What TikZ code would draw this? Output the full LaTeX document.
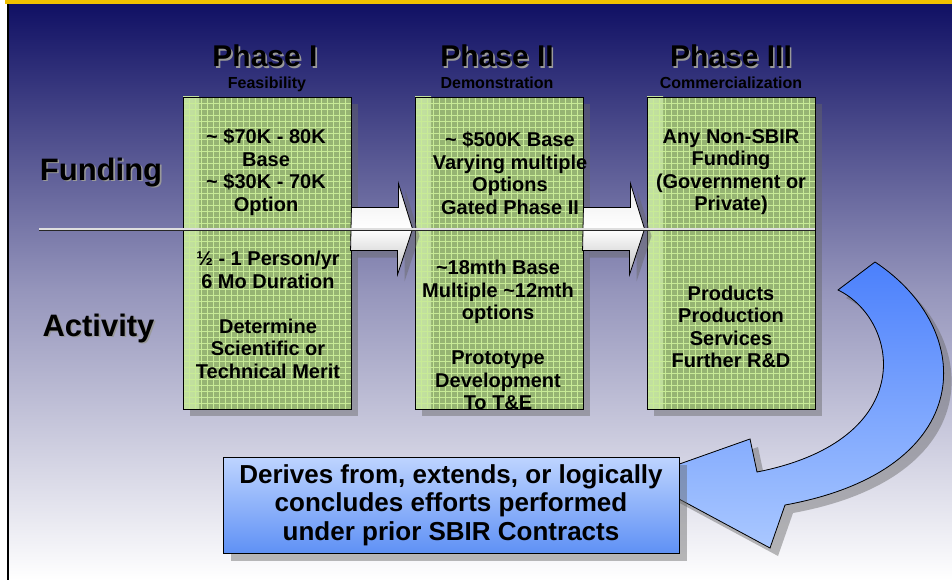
\documentclass[tikz,border=0pt]{standalone}
\usepackage{fontspec}
\setmainfont{Liberation Sans}
\usetikzlibrary{positioning,shadows,calc}

\definecolor{navytop}{RGB}{16,16,100}
\definecolor{navymid}{RGB}{150,150,188}
\definecolor{goldbar}{RGB}{240,192,0}
\definecolor{boxgreen}{RGB}{150,180,115}
\definecolor{boxlight}{RGB}{195,225,160}
\definecolor{gridgreen}{RGB}{200,235,150}
\definecolor{arrowblue}{RGB}{75,128,252}
\definecolor{arrowpale}{RGB}{170,200,255}
\definecolor{noteblue}{RGB}{95,145,245}
\definecolor{notepale}{RGB}{190,212,255}

% black text with a grey copy set just below and to the right
\newcommand{\embossed}[1]{\rlap{\kern1.6pt\raisebox{-1.6pt}{\color{black!40}#1}}#1}

\tikzset{
  boxshadow/.style={drop shadow={shadow xshift=7pt, shadow yshift=-7pt, fill=black!60, opacity=0.45}},
  boxgrid/.style={draw=gridgreen, line width=0.6pt},
  phasebox/.style={draw, line width=0.9pt, fill=boxgreen, minimum width=168pt, minimum height=312pt, inner sep=0pt, boxshadow,
    path picture={
      \shade[left color=boxlight, right color=boxgreen] (path picture bounding box.north west) rectangle ([xshift=16pt]path picture bounding box.south west);
      \draw[boxgrid] (path picture bounding box.south west) grid[step=6pt] (path picture bounding box.north east);
    }},
  phasetitle/.style={font=\bfseries\fontsize{30}{32}\selectfont, anchor=base, inner sep=0pt},
  phasesub/.style={font=\bfseries\fontsize{16}{18}\selectfont, anchor=base, inner sep=0pt},
  sidelabel/.style={font=\bfseries\fontsize{31}{33}\selectfont, anchor=base, inner sep=0pt},
  boxtext/.style={font=\bfseries\fontsize{20}{22.5}\selectfont, align=center, inner sep=0pt},
  blockarrow/.style={draw, line width=0.8pt, top color=gray!15, bottom color=gray!50, middle color=white, boxshadow},
  bendarrow/.style={draw, line width=0.8pt, top color=arrowblue, bottom color=arrowpale,
    drop shadow={shadow xshift=8pt, shadow yshift=-8pt, fill=black!60, opacity=0.45}},
  notebox/.style={draw, line width=0.9pt, top color=notepale, bottom color=noteblue, minimum width=456pt, minimum height=96pt,
    align=center, font=\bfseries\fontsize{26}{28.5}\selectfont,
    drop shadow={shadow xshift=8pt, shadow yshift=-8pt, fill=black!60, opacity=0.45}},
  divider/.style={draw=black!85, double=white!75!gray, double distance=1.6pt, line width=0.7pt}
}

\begin{document}
\begin{tikzpicture}[x=1pt, y=-1pt]
  \useasboundingbox (0,0) rectangle (952,580);

  % backdrop
  \shade[top color=navytop, bottom color=white, middle color=navymid] (9,4) rectangle (952,580);
  \fill[goldbar] (5,0) rectangle (952,4.5);
  \draw[line width=2.2pt] (8,4) -- (8,580);

  % the three phases
  \node[phasebox] (feas) at (267,253) {};
  \node[phasebox] (demo) at (499,253) {};
  \node[phasebox] (comm) at (731,253) {};

  \node[phasetitle] (feasTitle) at (265,67) {\embossed{Phase I}};
  \node[phasesub] (feasSub) at (267,89) {Feasibility};
  \node[phasetitle] (demoTitle) at (497,67) {\embossed{Phase II}};
  \node[phasesub] (demoSub) at (497,89) {Demonstration};
  \node[phasetitle] (commTitle) at (731,67) {\embossed{Phase III}};
  \node[phasesub] (commSub) at (731,89) {Commercialization};

  \coordinate (divL) at (39,229);

  % block arrows between phases
  \filldraw[blockarrow] ($(feas.east |- divL)+(0,-21.5)$) -- ++(47,0) -- ++(0,-24)
    -- ($(demo.west |- divL)+(-2,0)$) -- ++(-15,45.5) -- ++(0,-24) -- ++(-47,0) -- cycle;
  \filldraw[blockarrow] ($(demo.east |- divL)+(0,-21.5)$) -- ++(47,0) -- ++(0,-24)
    -- ($(comm.west |- divL)+(-2,0)$) -- ++(-15,45.5) -- ++(0,-24) -- ++(-47,0) -- cycle;

  \draw[divider] (divL) -- (comm.east |- divL);

  \node[sidelabel] (fundLabel) at (101,180) {\embossed{Funding}};
  \node[sidelabel] (actLabel) at (98.5,336) {\embossed{Activity}};

  \node[boxtext] (feasFund) at (266,172) {\textasciitilde\ \$70K - 80K\\Base\\\textasciitilde\ \$30K - 70K\\Option};
  \node[boxtext] (feasAct) at (268,315) {½ - 1 Person/yr\\6 Mo Duration\\[22.5pt]Determine\\Scientific or\\Technical Merit};
  \node[boxtext] (demoFund) at (510,173) {\textasciitilde\ \$500K Base\\Varying multiple\\Options\\Gated Phase II};
  \node[boxtext] (demoAct) at (498,335) {\textasciitilde18mth Base\\Multiple \textasciitilde12mth\\options\\[22.5pt]Prototype\\Development\\To T\&E};
  \node[boxtext] (commFund) at (731,172) {Any Non-SBIR\\Funding\\(Government or\\Private)};
  \node[boxtext] (commAct) at (731,327) {Products\\Production\\Services\\Further R\&D};

  % curved arrow back down to the note
  \filldraw[bendarrow] (875,262) .. controls (978,330) and (978,470) .. (785,505) -- (770,548) -- (640,478)
    -- (750,439) -- (757,472) .. controls (920,440) and (900,320) .. (838,290) -- cycle;

  \node[notebox] (prior) at (451,505) {Derives from, extends, or logically\\concludes efforts performed\\under prior SBIR Contracts};
\end{tikzpicture}
\end{document}
